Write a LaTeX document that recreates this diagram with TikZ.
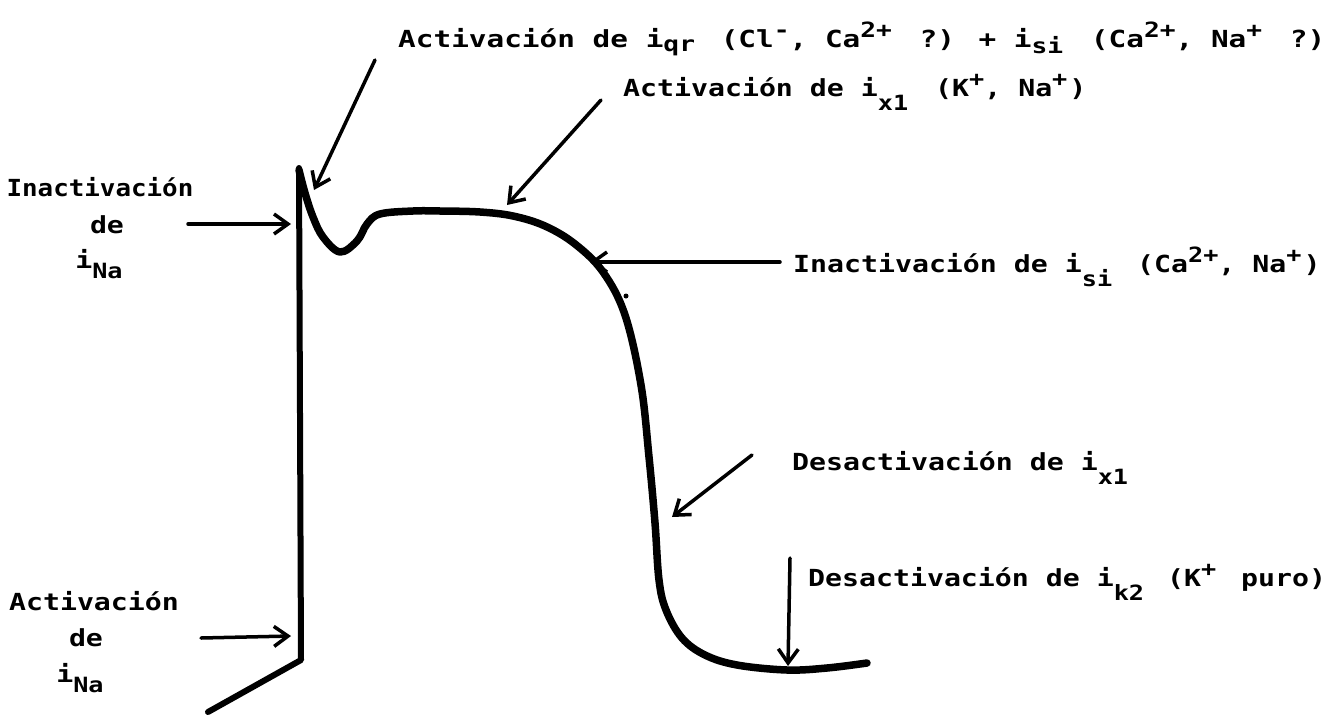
\documentclass[tikz,border=0pt]{standalone}
\usepackage{fontspec}
\usetikzlibrary{arrows.meta}
\newfontfamily\labW[FakeStretch=1.2]{DejaVu Sans Mono}
\newfontfamily\labT[FakeStretch=1.25]{DejaVu Sans Mono}
\newfontfamily\labM[FakeStretch=1.1]{DejaVu Sans Mono}
% lowered / raised small text for current indices and ion charges,
% followed by a little typewriter-like gap
\newcommand\dn[3][6pt]{\raisebox{-#1}{\fontsize{21}{21}\selectfont #3}\hspace{#2}}
\newcommand\up[3][10pt]{\raisebox{#1}{\fontsize{21}{21}\selectfont #3}\hspace{#2}}
\tikzset{
  lbl/.style={inner sep=0pt, font=\labW\bfseries\fontsize{23.5}{37}\selectfont},
  lblt/.style={inner sep=0pt, font=\labT\bfseries\fontsize{23.5}{37}\selectfont},
  lblm/.style={inner sep=0pt, font=\labM\bfseries\fontsize{23.5}{37}\selectfont},
  trace/.style={line width=7.5pt, line cap=round, line join=round},
  pointer/.style={line width=3.5pt, line cap=round,
    -{Straight Barb[length=14pt,width=20pt,line width=3.5pt]}},
}
\begin{document}
\begin{tikzpicture}[x=1pt,y=-1pt]
\useasboundingbox (0,0) rectangle (1338,718);

% labels
\node[lblt, anchor=base west] (qr) at (398,47)
  {Activación de i\dn[4pt]{8pt}{qr} (Cl\up{0pt}{-}, Ca\up{10pt}{2+} ?) + i\dn[6pt]{10pt}{si} (Ca\up{0pt}{2+}, Na\up{10pt}{+} ?)};
\node[lbl, anchor=base west] (xa) at (623,96)
  {Activación de i\dn[14pt]{10pt}{x1} (K\up{0pt}{+}, Na\up{2pt}{+})};
\node[lbl, anchor=base west] (si) at (793,272)
  {Inactivación de i\dn[14pt]{8pt}{si} (Ca\up{0pt}{2+}, Na\up{2pt}{+})};
\node[lbl, anchor=base west] (xd) at (792,470)
  {Desactivación de i\dn[14pt]{0pt}{x1}};
\node[lbl, anchor=base west] (kd) at (808,586)
  {Desactivación de i\dn[14pt]{6pt}{k2} (K\up{8pt}{+} puro)};
\node[lblm, anchor=base] (ina1) at (100,196) {Inactivación};
\node[lbl, anchor=base] (ina2) at (107,233) {de};
\node[lbl, anchor=base] (ina3) at (99,268) {i\dn[10pt]{0pt}{Na}};
\node[lbl, anchor=base] (act1) at (94,610) {Activación};
\node[lbl, anchor=base] (act2) at (86,646) {de};
\node[lbl, anchor=base] (act3) at (80,682) {i\dn[10pt]{0pt}{Na}};

% action potential trace
\coordinate (foot) at (208,712);
\coordinate (knee) at (301,660);
\coordinate (peak) at (299,168);
\draw[trace, line width=6pt] (foot) -- (knee) -- (peak);
\draw[trace] plot[smooth, tension=0.6] coordinates {
  (299,170) (305,193) (313,217) (323,237) (340,252) (357,241) (367,224)
  (380,214) (413,211) (440,211) (480,212) (513,216) (545,226) (575,244)
  (603,272) (625,315) (641,385) (649,457) (655,523) (659,580) (666,610)
  (682,638) (705,655) (737,665) (787,670) (827,668) (867,663)};
\fill (626,296) circle (2.5pt);

% pointers onto the trace
\coordinate (qrT) at (375,60);   \coordinate (qrH) at (314,190);
\coordinate (xaT) at (601,100);  \coordinate (xaH) at (507,205);
\coordinate (siT) at (780,262);  \coordinate (siH) at (590,262);
\coordinate (xdT) at (752,455);  \coordinate (xdH) at (672,517);
\coordinate (kdT) at (790,558);  \coordinate (kdH) at (788,666);
\coordinate (inaT) at (188,224); \coordinate (inaH) at (291,224);
\coordinate (actT) at (201,638); \coordinate (actH) at (291,636);
\draw[pointer] (qrT) -- (qrH);
\draw[pointer] (xaT) -- (xaH);
\draw[pointer] (siT) -- (siH);
\draw[pointer] (xdT) -- (xdH);
\draw[pointer] (kdT) -- (kdH);
\draw[pointer] (inaT) -- (inaH);
\draw[pointer] (actT) -- (actH);
\end{tikzpicture}
\end{document}
